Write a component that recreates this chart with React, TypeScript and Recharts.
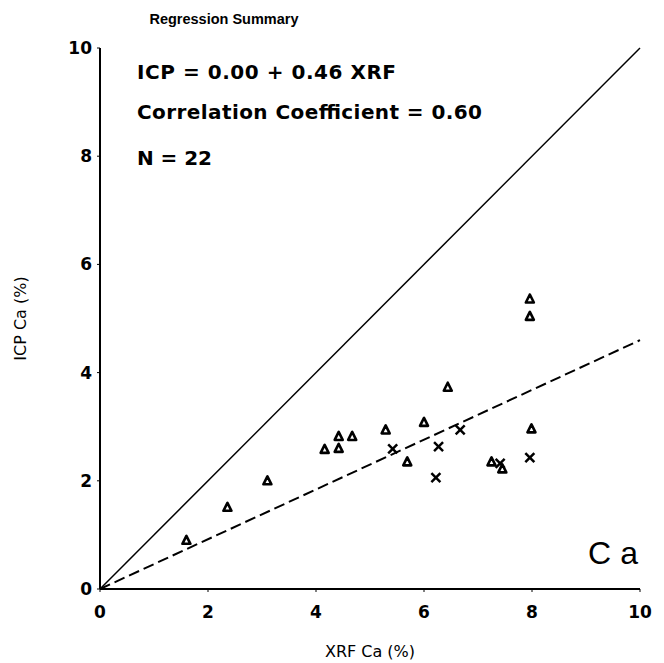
import React from "react"
import {
  ScatterChart,
  Scatter,
  XAxis,
  YAxis,
  ReferenceLine,
} from "recharts"

// XRF vs ICP calcium, two sample groups
const xrfTriangles = [1.6, 2.36, 3.1, 4.16, 4.42, 4.42, 4.67, 5.29, 5.69, 6.0, 6.44, 7.25, 7.45, 7.96, 7.96, 7.99]
const icpTriangles = [0.9, 1.51, 2.0, 2.58, 2.82, 2.6, 2.82, 2.94, 2.35, 3.08, 3.73, 2.35, 2.22, 5.36, 5.04, 2.96]
const xrfCrosses = [5.42, 6.22, 6.27, 6.67, 7.41, 7.96]
const icpCrosses = [2.59, 2.06, 2.63, 2.94, 2.32, 2.43]

const axisTicks = [0, 2, 4, 6, 8, 10]
const lineRange = [0, 10]
const intercept = 0.0
const slope = 0.46

const summaryLines = [
  "ICP = 0.00 + 0.46 XRF",
  "Correlation Coefficient = 0.60",
  "N = 22",
]

const font = "'Liberation Sans', Arial, sans-serif"
const dejavu = "'DejaVu Sans', sans-serif"

const triangleData = xrfTriangles.map((x, i) => ({ x, y: icpTriangles[i] }))
const crossData = xrfCrosses.map((x, i) => ({ x, y: icpCrosses[i] }))

function Triangle(props: any) {
  const { cx, cy } = props
  if (cx == null || cy == null) return null
  return (
    <polygon
      points={`${cx},${cy - 4.5} ${cx - 4},${cy + 3.5} ${cx + 4},${cy + 3.5}`}
      fill="#fff"
      stroke="#000"
      strokeWidth={2.6}
      strokeLinejoin="round"
    />
  )
}

function Cross(props: any) {
  const { cx, cy } = props
  if (cx == null || cy == null) return null
  const r = 4.5
  return (
    <g stroke="#000" strokeWidth={2.5}>
      <line x1={cx - r} y1={cy - r} x2={cx + r} y2={cy + r} />
      <line x1={cx - r} y1={cy + r} x2={cx + r} y2={cy - r} />
    </g>
  )
}

const tickStyle = { fill: "#000", fontSize: 17, fontWeight: 700, fontFamily: dejavu }

export default function App() {
  return (
    <div style={{ position: "absolute", top: 0, left: 0, width: 664, height: 663, background: "#fff" }}>
      <ScatterChart
        width={664}
        height={663}
        margin={{ top: 48, right: 24, bottom: 0, left: 0 }}
      >
        <XAxis
          type="number"
          dataKey="x"
          domain={[0, 10]}
          ticks={axisTicks}
          height={74}
          axisLine={{ stroke: "#000", strokeWidth: 2 }}
          tickLine={{ stroke: "#000" }}
          tickSize={3}
          tickMargin={14}
          tick={tickStyle}
          label={{
            value: "XRF Ca (%)",
            position: "insideBottom",
            offset: 6,
            style: { fill: "#000", fontSize: 16, fontFamily: dejavu },
          }}
        />
        <YAxis
          type="number"
          dataKey="y"
          domain={[0, 10]}
          ticks={axisTicks}
          width={100}
          axisLine={{ stroke: "#000", strokeWidth: 2 }}
          tickLine={{ stroke: "#000" }}
          tickSize={3}
          tickMargin={5}
          tick={tickStyle}
          label={{
            value: "ICP Ca (%)",
            angle: -90,
            position: "insideLeft",
            offset: 20,
            style: { fill: "#000", fontSize: 16, fontFamily: dejavu, textAnchor: "middle" },
          }}
        />
        <ReferenceLine
          segment={[
            { x: lineRange[0], y: lineRange[0] },
            { x: lineRange[1], y: lineRange[1] },
          ]}
          stroke="#000"
          strokeWidth={1.5}
          ifOverflow="visible"
        />
        <ReferenceLine
          segment={[
            { x: lineRange[0], y: intercept + slope * lineRange[0] },
            { x: lineRange[1], y: intercept + slope * lineRange[1] },
          ]}
          stroke="#000"
          strokeWidth={2}
          strokeDasharray="11 5"
          ifOverflow="visible"
        />
        <Scatter data={triangleData} shape={<Triangle />} isAnimationActive={false} />
        <Scatter data={crossData} shape={<Cross />} isAnimationActive={false} />
      </ScatterChart>
      <svg
        width={664}
        height={663}
        style={{ position: "absolute", top: 0, left: 0, pointerEvents: "none" }}
      >
        <text x={224} y={24} textAnchor="middle" fontFamily={font} fontWeight={700} fontSize={14.5}>
          Regression Summary
        </text>
        <text x={137} y={79} fontFamily={dejavu} fontWeight={700} fontSize={20} textLength={259} lengthAdjust="spacing">
          {summaryLines[0]}
        </text>
        <text x={137} y={119} fontFamily={dejavu} fontWeight={700} fontSize={20} textLength={345} lengthAdjust="spacing">
          {summaryLines[1]}
        </text>
        <text x={137} y={165} fontFamily={dejavu} fontWeight={700} fontSize={20} textLength={75} lengthAdjust="spacing">
          {summaryLines[2]}
        </text>
        <text x={588} y={564} fontFamily={font} fontSize={32} textLength={50} lengthAdjust="spacing">
          Ca
        </text>
      </svg>
    </div>
  )
}
